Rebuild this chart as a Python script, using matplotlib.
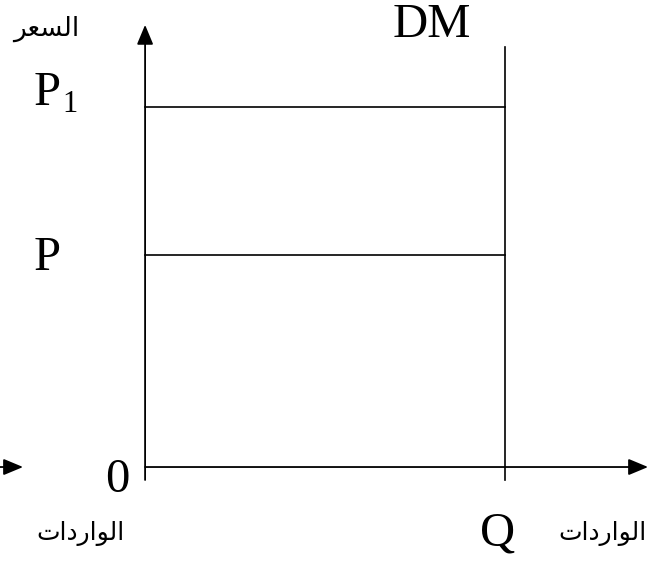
import matplotlib
matplotlib.use("Agg")
import matplotlib.pyplot as plt

# ---- data (diagram units) ----
price_levels = [10.0, 5.9]          # P1, P
price_names = ["P", "P"]
price_subs = ["1", ""]
quantity_Q = 10.0

# Arabic labels (presentation forms in visual order so they render joined)
label_price = "\uFEAE\uFECC\uFEB4\uFEDF\uFE8D"                      # السعر
label_imports = "\uFE95\uFE8D\uFEA9\uFEAD\uFE8D\uFEEE\uFEDF\uFE8D"  # الواردات

fig = plt.figure(figsize=(6.61, 5.61), dpi=100)
ax = fig.add_axes([0, 0, 1, 1])
ax.set_xlim(-4.03, 14.33)
ax.set_ylim(-2.61, 12.97)
ax.axis("off")

lw = 1.3
serif = ["Liberation Serif", "DejaVu Serif"]
arab = ["DejaVu Sans"]
astyle = "-|>,head_length=1.2,head_width=0.5"

def arrow(x0, y0, x1, y1):
    ax.annotate("", xy=(x1, y1), xytext=(x0, y0),
                arrowprops=dict(arrowstyle=astyle, lw=lw, color="black",
                                shrinkA=0, shrinkB=0, mutation_scale=10))

# axes with arrows
arrow(0, -0.36, 0, 12.28)
arrow(0, 0, 13.97, 0)
arrow(-4.2, 0, -3.39, 0)

# DM vertical line
ax.plot([quantity_Q, quantity_Q], [-0.36, 11.67], color="black", lw=1.2)

# price lines
for p in price_levels:
    ax.plot([0, quantity_Q], [p, p], color="black", lw=1.2)

# labels
ax.text(-3.11, 10.06, price_names[0], fontsize=35, family=serif, ha="left", va="baseline")
ax.text(-2.31, 9.86, price_subs[0], fontsize=22, family=serif, ha="left", va="baseline")
ax.text(-3.11, 5.47, price_names[1], fontsize=35, family=serif, ha="left", va="baseline")
ax.text(-0.78, -0.69, "0", fontsize=35, family=serif, ha="center", va="baseline")
ax.text(7.97, 11.94, "DM", fontsize=35, family=serif, ha="center", va="baseline")
ax.text(9.78, -2.17, "Q", fontsize=35, family=serif, ha="center", va="baseline")

ax.text(-2.75, 11.97, label_price, fontsize=19, family=arab, ha="center", va="baseline")
ax.text(-1.8, -2.02, label_imports, fontsize=18, family=arab, ha="center", va="baseline")
ax.text(12.7, -2.02, label_imports, fontsize=18, family=arab, ha="center", va="baseline")

fig.savefig("out.png", dpi=100)
